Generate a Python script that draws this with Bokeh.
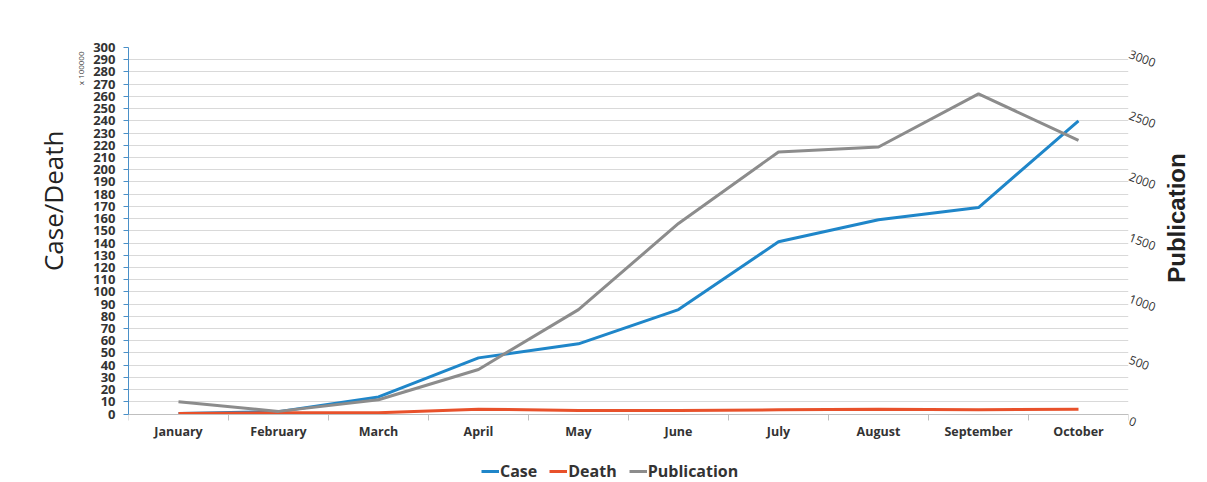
import numpy as np
from bokeh.plotting import figure
from bokeh.models import (Range1d, LinearAxis, FixedTicker, Legend, LegendItem, Title)
from bokeh.embed import file_html
from bokeh.resources import INLINE

months = ["January", "February", "March", "April", "May", "June",
          "July", "August", "September", "October"]
case = [0.5, 2, 14, 46, 57.5, 85.5, 141, 159, 169, 240]
death = [0.5, 1, 1, 4, 3, 3, 3.5, 4, 3.5, 4]
publication = [100, 22, 117, 365, 855, 1560, 2145, 2186, 2620, 2240]

left_ticks = list(range(0, 301, 10))
right_ticks = [0, 500, 1000, 1500, 2000, 2500, 3000]
left_title = "Case/Death"
left_title_at = 232      # left-scale position of the top of the rotated left title
right_title = "Publication"
right_title_at = 1075    # publication-scale position of the bottom of the right title

xs = np.arange(len(months)) + 0.5

p = figure(width=1207, height=482, output_backend="svg", toolbar_location=None,
           x_range=Range1d(0, len(months)), y_range=Range1d(-56, 300),
           min_border_left=128, min_border_right=79, min_border_top=47,
           min_border_bottom=0)
p.outline_line_color = None
p.background_fill_color = "white"
p.border_fill_color = "white"

p.extra_y_ranges = {"pub": Range1d(-560, 3000),
                    "pub_labels": Range1d(-510, 3050)}  # labels sit slightly below their gridline

# grid
p.xgrid.visible = False
p.ygrid.ticker = FixedTicker(ticks=left_ticks)
p.ygrid.grid_line_color = "#d9d9d9"
p.ygrid.grid_line_width = 1

# x axis drawn at y = 0
xa = p.xaxis[0]
xa.fixed_location = 0
xa.ticker = FixedTicker(ticks=list(xs), minor_ticks=list(range(0, len(months) + 1)))
xa.major_label_overrides = {float(x): m for x, m in zip(xs, months)}
xa.major_tick_line_color = None
xa.minor_tick_line_color = "#bfbfbf"
xa.minor_tick_out = 6
xa.minor_tick_in = 0
xa.axis_line_color = "#bfbfbf"
xa.major_label_text_font = "Open Sans"
xa.major_label_text_font_style = "bold"
xa.major_label_text_font_size = "12.5px"
xa.major_label_text_color = "#333333"
xa.major_label_standoff = 3

# left axis
ya = p.yaxis[0]
ya.bounds = (0, 300)
ya.ticker = FixedTicker(ticks=left_ticks)
ya.minor_tick_line_color = None
ya.axis_line_color = "#4a90c8"
ya.major_tick_line_color = "#4a90c8"
ya.major_tick_out = 5
ya.major_tick_in = 0
ya.major_label_text_font = "Open Sans"
ya.major_label_text_font_style = "bold"
ya.major_label_text_font_size = "13px"
ya.major_label_text_color = "#333333"
ya.major_label_standoff = 8

p.add_layout(Title(text="x 100000", align="right", offset=4, text_font="Open Sans",
                   text_font_size="8px", text_font_style="normal",
                   text_color="#333333"), "left")

# left title, reading bottom to top
lt = LinearAxis(ticker=FixedTicker(ticks=[left_title_at]))
lt.major_label_overrides = {left_title_at: left_title}
lt.axis_line_color = None
lt.major_tick_line_color = None
lt.minor_tick_line_color = None
lt.major_tick_out = 0
lt.minor_tick_out = 0
lt.major_label_orientation = np.pi / 2
lt.major_label_text_font = "Open Sans"
lt.major_label_text_font_style = "normal"
lt.major_label_text_font_size = "26px"
lt.major_label_text_color = "#222222"
lt.major_label_standoff = 14
p.add_layout(lt, "left")

# right axis (tick labels)
ra = LinearAxis(y_range_name="pub_labels", ticker=FixedTicker(ticks=right_ticks))
ra.axis_line_color = None
ra.major_tick_line_color = None
ra.minor_tick_line_color = None
ra.major_tick_out = 0
ra.minor_tick_out = 0
ra.major_label_orientation = -0.35
ra.major_label_text_font = "Open Sans"
ra.major_label_text_font_size = "12px"
ra.major_label_text_color = "#333333"
ra.major_label_standoff = 1
p.add_layout(ra, "right")

# right title, reading bottom to top
rt = LinearAxis(y_range_name="pub", ticker=FixedTicker(ticks=[right_title_at]))
rt.major_label_overrides = {right_title_at: right_title}
rt.axis_line_color = None
rt.major_tick_line_color = None
rt.minor_tick_line_color = None
rt.major_tick_out = 0
rt.minor_tick_out = 0
rt.major_label_orientation = np.pi / 2
rt.major_label_text_font = "Liberation Sans"
rt.major_label_text_font_style = "bold"
rt.major_label_text_font_size = "24px"
rt.major_label_text_color = "#222222"
rt.major_label_standoff = 15
p.add_layout(rt, "right")

r_case = p.line(xs, case, line_color="#1f86c9", line_width=3)
r_death = p.line(xs, death, line_color="#e8512b", line_width=3)
r_pub = p.line(xs, publication, line_color="#8c8c8c", line_width=3, y_range_name="pub")

legend = Legend(items=[LegendItem(label="Case", renderers=[r_case]),
                       LegendItem(label="Death", renderers=[r_death]),
                       LegendItem(label="Publication", renderers=[r_pub])],
                orientation="horizontal", location=(353, 0))
legend.border_line_color = None
legend.background_fill_alpha = 0
legend.label_text_font = "Open Sans"
legend.label_text_font_style = "bold"
legend.label_text_font_size = "16px"
legend.label_text_color = "#333333"
legend.glyph_width = 18
legend.label_standoff = 1
legend.spacing = 12
legend.padding = 4
legend.margin = 0
p.add_layout(legend)

open("out.html", "w").write(file_html(p, INLINE))
